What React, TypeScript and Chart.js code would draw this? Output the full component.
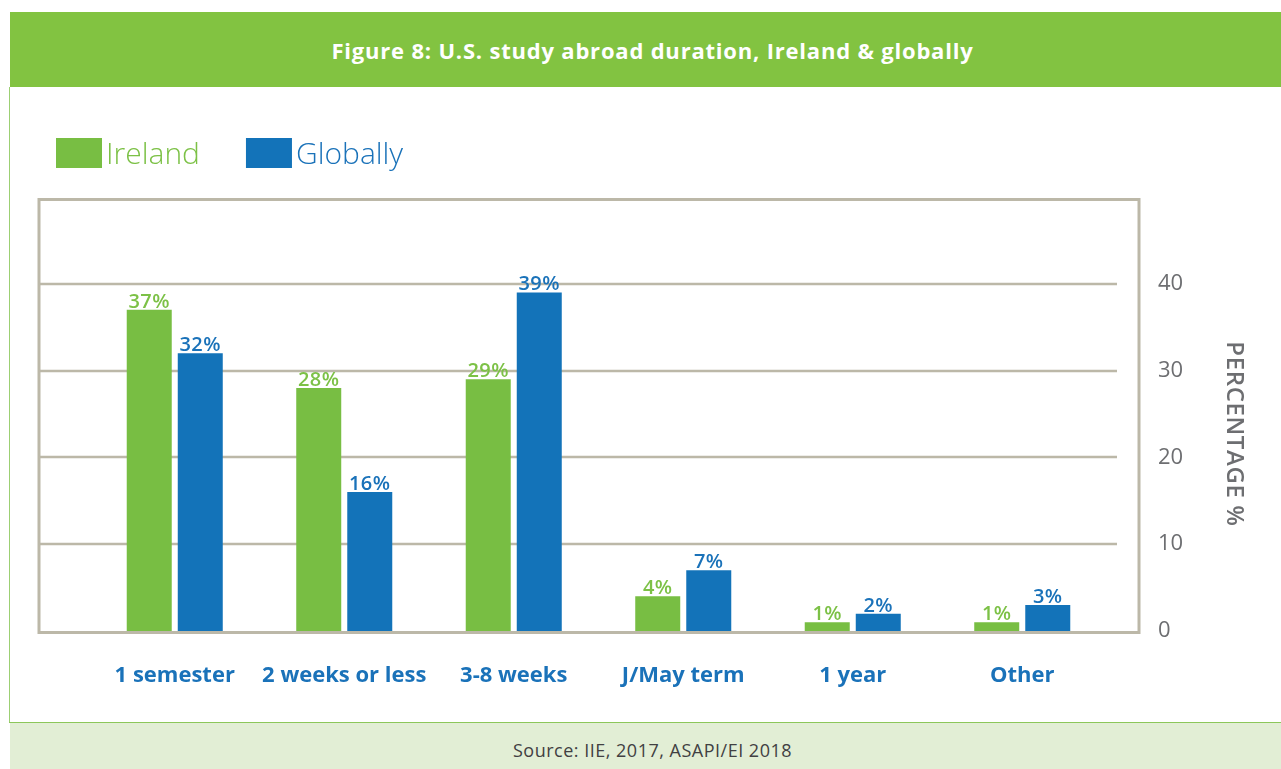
import React, { useEffect, useRef } from "react";
import { Chart, registerables } from "chart.js";

Chart.register(...registerables);

const categories = ["1 semester", "2 weeks or less", "3-8 weeks", "J/May term", "1 year", "Other"];
const seriesNames = ["Ireland", "Globally"];
const irelandValues = [37, 28, 29, 4, 1, 1];
const globalValues = [32, 16, 39, 7, 2, 3];
const yTicks = [0, 10, 20, 30, 40];
const titleText = "Figure 8: U.S. study abroad duration, Ireland & globally";
const sourceText = "Source: IIE, 2017, ASAPI/EI 2018";
const yAxisTitle = "PERCENTAGE %";

const FONT = "'Open Sans', 'DejaVu Sans', sans-serif";
const GREEN = "#78be43";
const BLUE = "#1373b9";
const GREEN_TEXT = "#7cc146";
const BLUE_TEXT = "#1a72b9";
const FRAME = "#bcb8a8";
const GREY_TEXT = "#6d6e71";

const framePlugin = {
  id: "framePlugin",
  beforeDatasetsDraw(chart: any) {
    const { ctx, chartArea, scales } = chart;
    const y = scales.y;
    ctx.save();
    ctx.strokeStyle = FRAME;
    ctx.lineWidth = 2.5;
    yTicks.filter((v) => v > 0).forEach((v) => {
      const py = Math.round(y.getPixelForValue(v));
      ctx.beginPath();
      ctx.moveTo(chartArea.left - 52, py);
      ctx.lineTo(chartArea.right + 10, py);
      ctx.stroke();
    });
    ctx.restore();
  },
  afterDatasetsDraw(chart: any) {
    const { ctx, chartArea, scales } = chart;
    const y = scales.y;
    ctx.save();
    // frame box
    ctx.strokeStyle = FRAME;
    ctx.lineWidth = 3;
    const left = chartArea.left - 51;
    const right = chartArea.right + 32;
    const top = chartArea.top + 2.5;
    const bottom = y.getPixelForValue(0) + 1.5;
    ctx.strokeRect(left, top, right - left, bottom - top);

    // value labels
    ctx.font = `600 20px ${FONT}`;
    ctx.textAlign = "center";
    ctx.textBaseline = "alphabetic";
    (ctx as any).letterSpacing = "0.5px";
    chart.data.datasets.forEach((ds: any, i: number) => {
      const meta = chart.getDatasetMeta(i);
      ctx.fillStyle = i === 0 ? GREEN_TEXT : BLUE_TEXT;
      meta.data.forEach((el: any, j: number) => {
        ctx.fillText(`${ds.data[j]}%`, el.x, el.y - 2);
      });
    });
    (ctx as any).letterSpacing = "0px";

    // y-axis title
    ctx.save();
    ctx.translate(chartArea.right + 127, (chartArea.top + chartArea.bottom) / 2 + 20);
    ctx.rotate(Math.PI / 2);
    ctx.font = `600 24px ${FONT}`;
    (ctx as any).letterSpacing = "0.6px";
    ctx.fillStyle = GREY_TEXT;
    ctx.textAlign = "center";
    ctx.textBaseline = "middle";
    ctx.fillText(yAxisTitle, 0, 0);
    ctx.restore();

    // legend
    let x = 56;
    const boxY = 138;
    ctx.font = `300 30px ${FONT}`;
    (ctx as any).letterSpacing = "0px";
    ctx.textAlign = "left";
    ctx.textBaseline = "alphabetic";
    chart.data.datasets.forEach((ds: any, i: number) => {
      ctx.fillStyle = ds.backgroundColor;
      ctx.fillRect(x, boxY, 46, 30);
      const tx = x + 50;
      ctx.fillStyle = i === 0 ? GREEN_TEXT : BLUE_TEXT;
      ctx.fillText(ds.label, tx, boxY + 25.5);
      x = tx + ctx.measureText(ds.label).width + 46;
    });
    ctx.restore();
  },
};

export default function App() {
  const canvasRef = useRef<HTMLCanvasElement | null>(null);

  useEffect(() => {
    if (!canvasRef.current) return;
    const chart = new Chart(canvasRef.current, {
      type: "bar",
      data: {
        labels: categories,
        datasets: [
          {
            label: seriesNames[0],
            data: irelandValues,
            backgroundColor: GREEN,
            categoryPercentage: 0.602,
            barPercentage: 0.882,
          },
          {
            label: seriesNames[1],
            data: globalValues,
            backgroundColor: BLUE,
            categoryPercentage: 0.602,
            barPercentage: 0.882,
          },
        ],
      },
      options: {
        responsive: false,
        animation: false,
        devicePixelRatio: 1,
        layout: { padding: { left: 90, top: 197, right: 0, bottom: 0 } },
        plugins: {
          legend: { display: false },
          tooltip: { enabled: false },
          title: { display: false },
        },
        scales: {
          x: {
            grid: { display: false, drawTicks: false },
            border: { display: false },
            ticks: {
              color: BLUE_TEXT,
              font: { family: FONT, size: 22, weight: "700" },
              padding: 32,
              maxRotation: 0,
              autoSkip: false,
            },
            afterFit: (s: any) => {
              s.height = 138;
            },
          },
          y: {
            position: "right",
            min: 0,
            max: 50,
            grid: { display: false, drawTicks: false },
            border: { display: false },
            ticks: {
              stepSize: 10,
              padding: 51,
              color: GREY_TEXT,
              font: { family: FONT, size: 22 },
              callback: (v: any) => (yTicks.includes(Number(v)) ? String(v) : ""),
            },
            afterFit: (s: any) => {
              s.width = 174;
            },
          },
        },
      },
      plugins: [framePlugin],
    } as any);
    return () => chart.destroy();
  }, []);

  return (
    <div
      style={{
        position: "absolute",
        left: 0,
        top: 0,
        width: 1281,
        height: 769,
        overflow: "hidden",
        background: "#ffffff",
        fontFamily: FONT,
      }}
    >
      <div
        style={{
          position: "absolute",
          left: 10,
          top: 12,
          width: 1285,
          height: 75,
          background: "#82c341",
          color: "#ffffff",
          fontWeight: 700,
          fontSize: 22,
          letterSpacing: "0.8px",
          lineHeight: "77px",
          textAlign: "center",
          whiteSpace: "nowrap",
        }}
      >
        {titleText}
      </div>
      <div
        style={{
          position: "absolute",
          left: 9,
          top: 87,
          width: 1,
          height: 636,
          background: "#9ccf73",
        }}
      />
      <div
        style={{
          position: "absolute",
          left: 9,
          top: 722,
          width: 1290,
          height: 1,
          background: "#8cc75a",
        }}
      />
      <div
        style={{
          position: "absolute",
          left: 10,
          top: 723,
          width: 1285,
          height: 46,
          background: "#e2eed5",
          color: "#414042",
          fontSize: 18,
          letterSpacing: "0.5px",
          lineHeight: "54px",
          textAlign: "center",
          whiteSpace: "nowrap",
        }}
      >
        {sourceText}
      </div>
      <canvas
        ref={canvasRef}
        width={1281}
        height={769}
        style={{ position: "absolute", left: 0, top: 0, width: 1281, height: 769, zIndex: 1 }}
      />
    </div>
  );
}
